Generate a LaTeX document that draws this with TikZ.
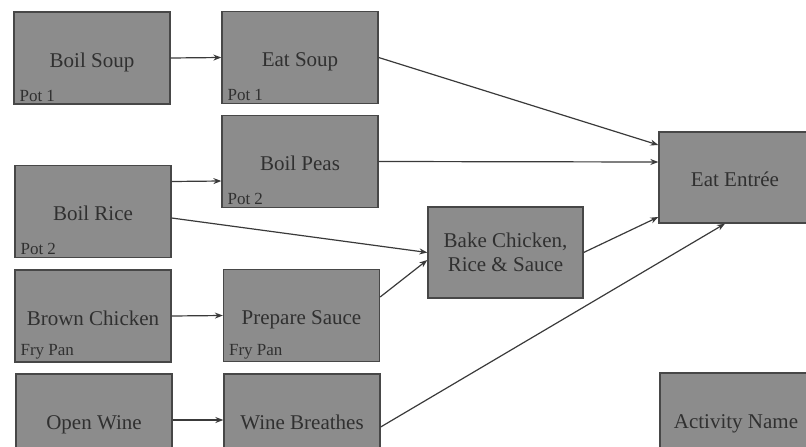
\documentclass[tikz,border=0pt]{standalone}
\usepackage{fontspec}
\setmainfont{Liberation Serif}
\usetikzlibrary{arrows.meta}
\definecolor{boxfill}{HTML}{8C8C8C}
\definecolor{boxline}{HTML}{474747}
\definecolor{ink}{HTML}{303030}
\definecolor{wire}{HTML}{3A3A3A}
\tikzset{
  activity/.style={draw=boxline, line width=1.3pt, fill=boxfill, text=ink,
    minimum width=156pt, minimum height=92pt, inner sep=0pt,
    text height=18pt, text depth=0pt,
    font=\fontsize{21}{24}\selectfont, align=center},
  resource/.style={anchor=south west, inner sep=0pt, text=ink,
    font=\fontsize{17}{19}\selectfont},
  flow/.style={draw=wire, line width=1.2pt,
    -{Stealth[length=8pt,width=6pt]}}
}
\begin{document}
\begin{tikzpicture}[x=1pt,y=-1pt]
\useasboundingbox (0,0) rectangle (806,447);

% activities
\node[activity] (boilsoup) at (92,58)      {Boil Soup};
\node[activity] (eatsoup)  at (300,57.5)   {Eat Soup};
\node[activity] (boilpeas) at (300,161.5)  {Boil Peas};
\node[activity] (boilrice) at (93,211.5)   {Boil Rice};
\node[activity] (brown)    at (93,316)     {Brown Chicken};
\node[activity] (sauce)    at (301.5,315.5){Prepare Sauce};
\node[activity] (openwine) at (94,420)     {Open Wine};
\node[activity] (breathe)  at (302,420)    {Wine Breathes};
\node[activity, minimum width=155pt, minimum height=91pt, text height=, text depth=] (bake) at (505.5,252.5)
  {Bake Chicken,\\Rice \& Sauce};
\node[activity, minimum width=152pt, minimum height=91pt] (entree) at (735,177.5) {Eat Entrée};
\node[activity, minimum width=152pt] (legend) at (736,419) {Activity Name};

% equipment tags
\node[resource] (t1) at ([shift={(6pt,3pt)}]boilsoup.south west) {Pot 1};
\node[resource] (t2) at ([shift={(6pt,3pt)}]eatsoup.south west)  {Pot 1};
\node[resource] (t3) at ([shift={(6pt,3pt)}]boilpeas.south west) {Pot 2};
\node[resource] (t4) at ([shift={(6pt,3pt)}]boilrice.south west) {Pot 2};
\node[resource] (t5) at ([shift={(6pt,3pt)}]brown.south west)    {Fry Pan};
\node[resource] (t6) at ([shift={(6pt,3pt)}]sauce.south west)    {Fry Pan};

% precedence arrows
\draw[flow] (boilsoup.east) -- (eatsoup.west);
\draw[flow] ([yshift=30pt]boilrice.east) -- ([yshift=-19.5pt]boilpeas.west);
\draw[flow] ([yshift=-6.5pt]boilrice.east) -- (bake.west);
\draw[flow] (brown.east) -- (sauce.west);
\draw[flow] (openwine.east) -- (breathe.west);
\draw[flow] ([yshift=18.5pt]sauce.east) -- ([yshift=-7.5pt]bake.west);
\draw[flow] (eatsoup.east) -- ([yshift=32.5pt]entree.west);
\draw[flow] (boilpeas.east) -- ([yshift=15.5pt]entree.west);
\draw[flow] (bake.east) -- ([yshift=-39.5pt]entree.west);
\draw[flow] ([yshift=-7pt]breathe.east) -- ([xshift=-10pt]entree.south);
\end{tikzpicture}
\end{document}
